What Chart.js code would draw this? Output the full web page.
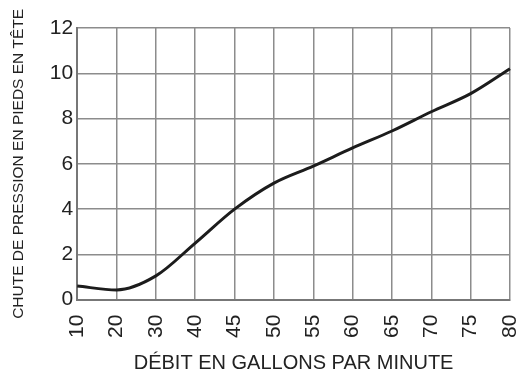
<!DOCTYPE html>
<html>
<head>
<meta charset="utf-8">
<script src="https://cdn.jsdelivr.net/npm/chart.js@4"></script>
<style>
  html, body { margin: 0; padding: 0; background: #fff; }
  #wrap { width: 516px; height: 373px; }
</style>
</head>
<body>
<div id="wrap"><canvas id="chart1"></canvas></div>
<script>
  // debit (gal/min) et chute de pression (pieds)
  var debits = ['10', '20', '30', '40', '45', '50', '55', '60', '65', '70', '75', '80']
  var chutes = [0.6, 0.43, 1.05, 2.5, 4.0, 5.15, 5.9, 6.7, 7.45, 8.3, 9.1, 10.2]
  var ticksY = [0, 2, 4, 6, 8, 10, 12]

  var gris = '#8c8c8c'
  var texte = '#222'

  const data = {
    labels: debits,
    datasets: [{
      data: chutes,
      borderColor: '#1c1c1c',
      borderWidth: 3,
      pointRadius: 0,
      cubicInterpolationMode: 'monotone',
      fill: false
    }]
  };

  const config = {
    type: 'line',
    data,
    options: {
      responsive: true,
      maintainAspectRatio: false,
      animation: false,
      layout: { padding: { left: 10, right: 6, top: 28, bottom: 0 } },
      plugins: { legend: { display: false }, tooltip: { enabled: false } },
      scales: {
        x: {
          offset: false,
          // pas de marge auto pour les etiquettes aux extremites
          afterFit: function (s) { s.paddingLeft = 0; s.paddingRight = 0 },
          grid: { color: gris, lineWidth: 1.5, drawTicks: false },
          border: { color: '#777', width: 2 },
          ticks: {
            color: texte,
            font: { family: 'Liberation Sans', size: 21 },
            minRotation: 90,
            maxRotation: 90,
            padding: 15,
            autoSkip: false
          },
          title: {
            display: true,
            text: 'DÉBIT EN GALLONS PAR MINUTE',
            color: texte,
            font: { family: 'Liberation Sans', size: 20, lineHeight: 1 },
            padding: { top: 0, bottom: 0 }
          }
        },
        y: {
          min: 0,
          max: 12,
          afterBuildTicks: function (axis) {
            axis.ticks = ticksY.map(function (v) { return { value: v } })
          },
          afterFit: function (s) { s.paddingTop = 0; s.paddingBottom = 0 },
          grid: { color: gris, lineWidth: 1.5, drawTicks: false },
          border: { color: '#777', width: 2 },
          ticks: {
            color: texte,
            font: { family: 'Liberation Sans', size: 21 },
            padding: 4
          },
          title: {
            display: true,
            text: 'CHUTE DE PRESSION EN PIEDS EN TÊTE',
            color: texte,
            font: { family: 'Liberation Sans', size: 15.5, lineHeight: 1.15 },
            padding: { top: 0, bottom: 18 }
          }
        }
      }
    }
  };

  const myChart = new Chart(document.getElementById('chart1'), config);
</script>
</body>
</html>
